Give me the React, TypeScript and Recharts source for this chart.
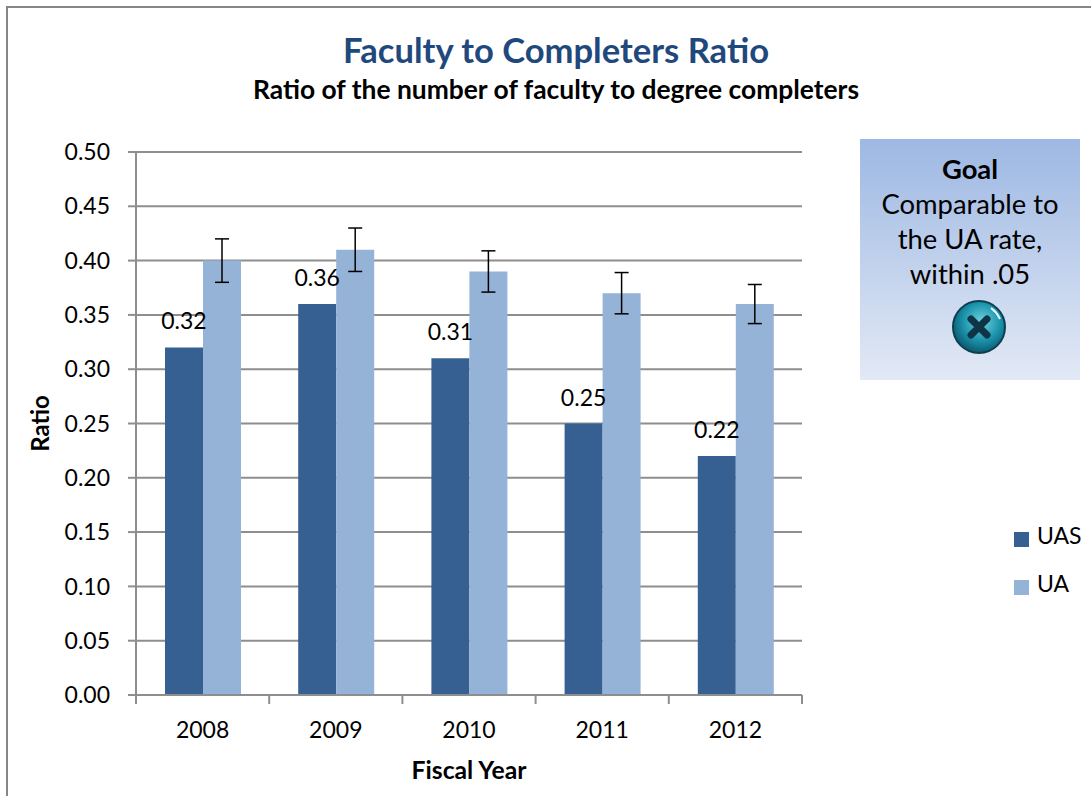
import { Bar, BarChart, CartesianGrid, ErrorBar, LabelList, Legend, XAxis, YAxis } from "recharts";

const YEARS = ["2008", "2009", "2010", "2011", "2012"];
const UAS = [0.32, 0.36, 0.31, 0.25, 0.22];
const UA = [0.4, 0.41, 0.39, 0.37, 0.36];
const UA_ERROR = [0.02, 0.02, 0.019, 0.019, 0.018];
const Y_TICKS = [0, 0.05, 0.1, 0.15, 0.2, 0.25, 0.3, 0.35, 0.4, 0.45, 0.5];

const data = YEARS.map((year, i) => ({
  year,
  UAS: UAS[i],
  UA: UA[i],
  uaError: UA_ERROR[i],
}));

const FONT = "Lato, sans-serif";
const AXIS_GRAY = "#8e8e8e";

// ticks sit between the categories, not under them
function YearTick(props: any) {
  const { x, y, payload, index } = props;
  const half = payload.offset ?? 66.6;
  return (
    <g>
      <line x1={x - half} x2={x - half} y1={y - 8} y2={y + 1} stroke={AXIS_GRAY} strokeWidth={2} />
      {index === YEARS.length - 1 && (
        <line x1={x + half} x2={x + half} y1={y - 8} y2={y + 1} stroke={AXIS_GRAY} strokeWidth={2} />
      )}
      <text x={x} y={y + 35} textAnchor="middle" fontSize={23} fill="#000" fontFamily={FONT}>
        {payload.value}
      </text>
    </g>
  );
}

function StatusIcon() {
  return (
    <svg width={56} height={56} viewBox="0 0 56 56" style={{ display: "block" }}>
      <defs>
        <radialGradient id="ball" cx="55%" cy="40%" r="60%">
          <stop offset="0%" stopColor="#6fd3e0" />
          <stop offset="60%" stopColor="#1b93ab" />
          <stop offset="100%" stopColor="#0b5a70" />
        </radialGradient>
      </defs>
      <circle cx={28} cy={28} r={26} fill="url(#ball)" stroke="#0d3f50" strokeWidth={2} />
      <path d="M40 9 A 24 24 0 0 1 49 20 A 30 30 0 0 0 40 9 Z" fill="#e4f7fa" stroke="#e4f7fa" strokeWidth={2} />
      <path d="M20 20 L36 36 M36 20 L20 36" stroke="#0e3446" strokeWidth={7} strokeLinecap="round" />
    </svg>
  );
}

export default function App() {
  return (
    <div style={{ position: "absolute", left: 0, top: 0, width: 1091, height: 796, overflow: "hidden", background: "#fff", fontFamily: FONT }}>
      <div style={{ position: "absolute", left: 6, top: 6, width: 1200, height: 900, border: "2px solid #868686" }} />
      <div style={{ position: "absolute", left: 0, top: 28, width: 1112, textAlign: "center", fontSize: 34.6, fontWeight: 700, color: "#1f497d", lineHeight: "44px" }}>
        Faculty to Completers Ratio
      </div>
      <div style={{ position: "absolute", left: 0, top: 74, width: 1112, textAlign: "center", fontSize: 26.4, fontWeight: 700, color: "#000", lineHeight: "30px" }}>
        Ratio of the number of faculty to degree completers
      </div>

      <div style={{ position: "absolute", left: 0, top: 0 }}>
        <BarChart
          width={1091}
          height={796}
          data={data}
          barSize={38}
          barGap={0}
          margin={{ top: 152, right: 289, bottom: 61, left: 76 }}
        >
          <CartesianGrid vertical={false} stroke={AXIS_GRAY} strokeWidth={2} />
          <XAxis
            dataKey="year"
            height={40}
            axisLine={{ stroke: AXIS_GRAY, strokeWidth: 2 }}
            tickLine={false}
            tick={<YearTick />}
            label={{ value: "Fiscal Year", position: "insideBottom", offset: -44, fontSize: 24.7, fontWeight: 700, fill: "#000", fontFamily: FONT }}
          />
          <YAxis
            width={60}
            domain={[0, 0.5]}
            ticks={Y_TICKS}
            tickFormatter={(v: number) => v.toFixed(2)}
            axisLine={{ stroke: AXIS_GRAY, strokeWidth: 2 }}
            tickLine={{ stroke: AXIS_GRAY, strokeWidth: 2 }}
            tickSize={8}
            tickMargin={18}
            tick={{ fontSize: 23, fill: "#000", fontFamily: FONT }}
            label={{ value: "Ratio", angle: -90, position: "insideLeft", offset: -36, textAnchor: "middle", fontSize: 24, fontWeight: 700, fill: "#000", fontFamily: FONT }}
          />
          <Legend
            layout="vertical"
            align="center"
            verticalAlign="middle"
            iconType="square"
            iconSize={15}
            itemSorter={null}
            formatter={(value: string) => (
              <span style={{ color: "#000", fontSize: 23, lineHeight: "48px", marginLeft: 4, whiteSpace: "nowrap" }}>{value}</span>
            )}
            wrapperStyle={{ left: 1014, top: 511, width: 120, textAlign: "left", fontFamily: FONT }}
          />
          <Bar dataKey="UAS" fill="#376092" isAnimationActive={false}>
            <LabelList dataKey="UAS" position="top" offset={18} fontSize={23} fill="#000" fontFamily={FONT} formatter={(v: number) => v.toFixed(2)} />
          </Bar>
          <Bar dataKey="UA" fill="#95b3d7" isAnimationActive={false}>
            <ErrorBar dataKey="uaError" width={7} stroke="#000" strokeWidth={1.5} isAnimationActive={false} />
          </Bar>
        </BarChart>
      </div>

      <div style={{ position: "absolute", left: 860, top: 139, width: 220, height: 241, background: "linear-gradient(#9db8e3, #e3e9f5)", textAlign: "center", color: "#000", fontSize: 27.4, lineHeight: "35px", paddingTop: 12, boxSizing: "border-box" }}>
        <div style={{ fontWeight: 700 }}>Goal</div>
        <div>Comparable to</div>
        <div>the UA rate,</div>
        <div>within .05</div>
        <div style={{ margin: "8px 0 0 91px" }}><StatusIcon /></div>
      </div>
    </div>
  );
}
